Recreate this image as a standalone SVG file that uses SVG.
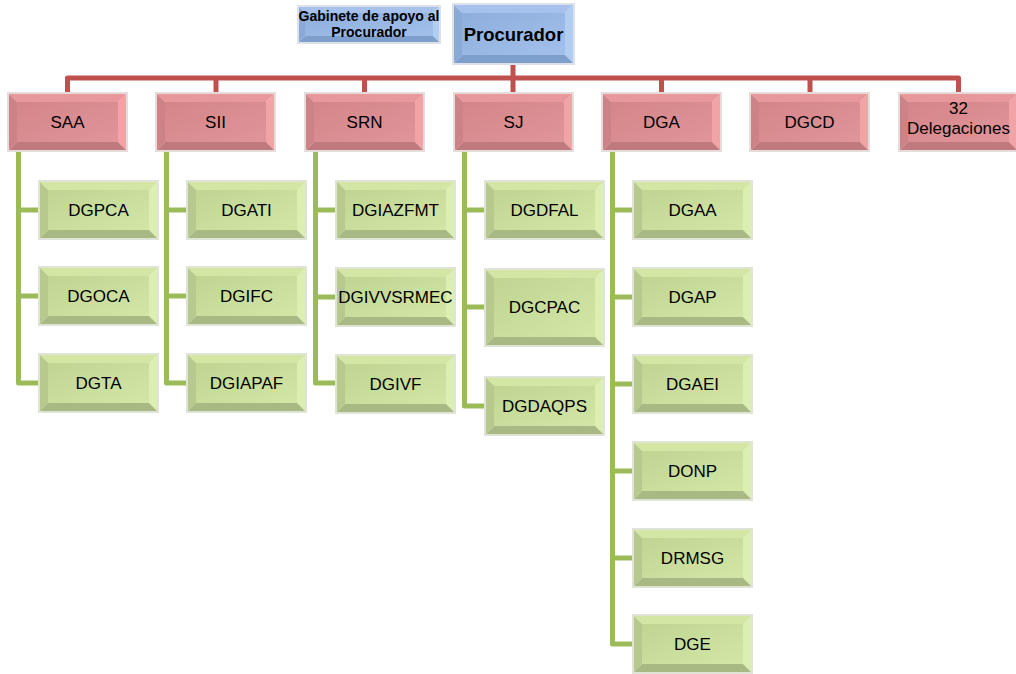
<svg xmlns="http://www.w3.org/2000/svg" xmlns:xlink="http://www.w3.org/1999/xlink" width="1016" height="674" viewBox="0 0 1016 674">
<style>
text{font-family:"Liberation Sans",Arial,sans-serif;font-size:17px;fill:#000;text-anchor:middle}
.b{font-weight:bold}
.red{stroke:#c0504d;stroke-width:5;fill:none;stroke-linejoin:round}
.grn{stroke:#9bbb59;stroke-width:5;fill:none;stroke-linejoin:round;stroke-linecap:butt}
</style>
<defs>
<linearGradient id="rf" x1="0" y1="0" x2="1" y2="1"><stop offset="0" stop-color="#d48589"/><stop offset="1" stop-color="#e0959a"/></linearGradient>
<linearGradient id="gf" x1="0" y1="0" x2="1" y2="1"><stop offset="0" stop-color="#c0d592"/><stop offset="1" stop-color="#d2e6a6"/></linearGradient>
<linearGradient id="bf" x1="0" y1="0" x2="1" y2="1"><stop offset="0" stop-color="#8eaedc"/><stop offset="1" stop-color="#a2c0ea"/></linearGradient>
<symbol id="rbox" viewBox="0 0 121 60" width="121" height="60">
<rect width="121" height="60" fill="#e6dcdc"/>
<polygon points="2,2 119,2 111,10 10,10" fill="#e8979b"/>
<polygon points="119,2 119,58 111,50 111,10" fill="#f2a3a6"/>
<polygon points="2,58 119,58 111,50 10,50" fill="#c07a7e"/>
<polygon points="2,2 10,10 10,50 2,58" fill="#cc8286"/>
<rect x="10" y="10" width="101" height="40" fill="url(#rf)"/>
</symbol>
<symbol id="gbox" viewBox="0 0 121 60" width="121" height="60">
<rect width="121" height="60" fill="#dfe4d6"/>
<polygon points="2,2 119,2 111,10 10,10" fill="#d3e6a4"/>
<polygon points="119,2 119,58 111,50 111,10" fill="#dcefb2"/>
<polygon points="2,58 119,58 111,50 10,50" fill="#a9b983"/>
<polygon points="2,2 10,10 10,50 2,58" fill="#b7c98d"/>
<rect x="10" y="10" width="101" height="40" fill="url(#gf)"/>
</symbol>
<symbol id="gtall" viewBox="0 0 121 79" width="121" height="79">
<rect width="121" height="79" fill="#dfe4d6"/>
<polygon points="2,2 119,2 111,10 10,10" fill="#d3e6a4"/>
<polygon points="119,2 119,77 111,69 111,10" fill="#dcefb2"/>
<polygon points="2,77 119,77 111,69 10,69" fill="#a9b983"/>
<polygon points="2,2 10,10 10,69 2,77" fill="#b7c98d"/>
<rect x="10" y="10" width="101" height="59" fill="url(#gf)"/>
</symbol>
<symbol id="bbox" viewBox="0 0 123 62" width="123" height="62">
<rect width="123" height="62" fill="#dde2ea"/>
<polygon points="2,2 121,2 113,10 10,10" fill="#a6c2ec"/>
<polygon points="121,2 121,60 113,52 113,10" fill="#b2cdf2"/>
<polygon points="2,60 121,60 113,52 10,52" fill="#7e9ecb"/>
<polygon points="2,2 10,10 10,52 2,60" fill="#8aa9d6"/>
<rect x="10" y="10" width="103" height="42" fill="url(#bf)"/>
</symbol>
<symbol id="bsmall" viewBox="0 0 144 39" width="144" height="39">
<rect width="144" height="39" fill="#dde2ea"/>
<polygon points="2,2 142,2 136,8 8,8" fill="#a6c2ec"/>
<polygon points="142,2 142,37 136,31 136,8" fill="#b2cdf2"/>
<polygon points="2,37 142,37 136,31 8,31" fill="#7e9ecb"/>
<polygon points="2,2 8,8 8,31 2,37" fill="#8aa9d6"/>
<rect x="8" y="8" width="128" height="23" fill="url(#bf)"/>
</symbol>
</defs>

<g id="connectors">
<path class="red" d="M513,65 V78 M67.5,92 V78 H958.5 V92 M216,78 V92 M364.5,78 V92 M513,78 V92 M661.5,78 V92 M810,78 V92"/>
<path class="grn" d="M18.5,152 V383 H38 M18.5,210 H38 M18.5,296 H38"/>
<path class="grn" d="M166.5,152 V383 H186 M166.5,210 H186 M166.5,296 H186"/>
<path class="grn" d="M315.5,152 V383 H335 M315.5,210 H335 M315.5,297 H335"/>
<path class="grn" d="M464.5,152 V406 H484 M464.5,210 H484 M464.5,307 H484"/>
<path class="grn" d="M612.5,152 V644 H632 M612.5,210 H632 M612.5,297 H632 M612.5,384 H632 M612.5,471 H632 M612.5,558 H632"/>
</g>

<g id="gabinete"><use href="#bsmall" x="297" y="5"/><text class="b" x="369" y="21" style="font-size:14px">Gabinete de apoyo al</text><text class="b" x="369" y="37" style="font-size:14px">Procurador</text></g>
<g id="procurador"><use href="#bbox" x="452" y="3"/><text class="b" x="513.5" y="41" style="font-size:18.5px">Procurador</text></g>

<g id="saa"><use href="#rbox" x="7" y="92"/><text x="67.5" y="128">SAA</text></g>
<g id="sii"><use href="#rbox" x="155" y="92"/><text x="215.5" y="128">SII</text></g>
<g id="srn"><use href="#rbox" x="304" y="92"/><text x="364.5" y="128">SRN</text></g>
<g id="sj"><use href="#rbox" x="453" y="92"/><text x="513.5" y="128">SJ</text></g>
<g id="dga"><use href="#rbox" x="601" y="92"/><text x="661.5" y="128">DGA</text></g>
<g id="dgcd"><use href="#rbox" x="749" y="92"/><text x="809.5" y="128">DGCD</text></g>
<g id="delegaciones"><use href="#rbox" x="898" y="92"/><text x="958.5" y="114">32</text><text x="958.5" y="134">Delegaciones</text></g>

<g id="dgpca"><use href="#gbox" x="38" y="180"/><text x="98.5" y="216">DGPCA</text></g>
<g id="dgoca"><use href="#gbox" x="38" y="266"/><text x="98.5" y="302">DGOCA</text></g>
<g id="dgta"><use href="#gbox" x="38" y="353"/><text x="98.5" y="389">DGTA</text></g>

<g id="dgati"><use href="#gbox" x="186" y="180"/><text x="246.5" y="216">DGATI</text></g>
<g id="dgifc"><use href="#gbox" x="186" y="266"/><text x="246.5" y="302">DGIFC</text></g>
<g id="dgiapaf"><use href="#gbox" x="186" y="353"/><text x="246.5" y="389">DGIAPAF</text></g>

<g id="dgiazfmt"><use href="#gbox" x="335" y="180"/><text x="395.5" y="216">DGIAZFMT</text></g>
<g id="dgivvsrmec"><use href="#gbox" x="335" y="267"/><text x="395.5" y="303">DGIVVSRMEC</text></g>
<g id="dgivf"><use href="#gbox" x="335" y="354"/><text x="395.5" y="390">DGIVF</text></g>

<g id="dgdfal"><use href="#gbox" x="484" y="180"/><text x="544.5" y="216">DGDFAL</text></g>
<g id="dgcpac"><use href="#gtall" x="484" y="268"/><text x="544.5" y="313">DGCPAC</text></g>
<g id="dgdaqps"><use href="#gbox" x="484" y="376"/><text x="544.5" y="412">DGDAQPS</text></g>

<g id="dgaa"><use href="#gbox" x="632" y="180"/><text x="692.5" y="216">DGAA</text></g>
<g id="dgap"><use href="#gbox" x="632" y="267"/><text x="692.5" y="303">DGAP</text></g>
<g id="dgaei"><use href="#gbox" x="632" y="354"/><text x="692.5" y="390">DGAEI</text></g>
<g id="donp"><use href="#gbox" x="632" y="441"/><text x="692.5" y="477">DONP</text></g>
<g id="drmsg"><use href="#gbox" x="632" y="528"/><text x="692.5" y="564">DRMSG</text></g>
<g id="dge"><use href="#gbox" x="632" y="614"/><text x="692.5" y="650">DGE</text></g>
</svg>
